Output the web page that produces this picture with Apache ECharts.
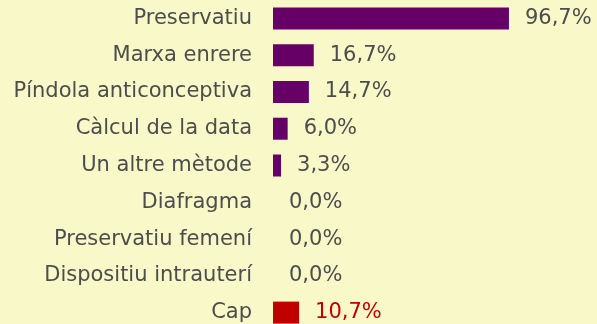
<!DOCTYPE html>
<html>
<head>
<meta charset="utf-8">
<script src="https://cdn.jsdelivr.net/npm/echarts@6/dist/echarts.min.js"></script>
<style>
  html, body { margin: 0; padding: 0; background: #f8f8c8; overflow: hidden; }
  #chart { width: 597px; height: 340px; }
</style>
</head>
<body>
<div id="chart"></div>
<script>
// Contraceptive methods, share of respondents (%)
const categories = [
  'Preservatiu',
  'Marxa enrere',
  'Píndola anticonceptiva',
  'Càlcul de la data',
  'Un altre mètode',
  'Diafragma',
  'Preservatiu femení',
  'Dispositiu intrauterí',
  'Cap'
];
const values = [96.7, 16.7, 14.7, 6.0, 3.3, 0.0, 0.0, 0.0, 10.7];
const highlighted = ['Cap'];

const purple = '#660066';
const red = '#c00000';
const textGray = '#4d4d4d';

const data = categories.map((c, i) => {
  const hi = highlighted.includes(c);
  return {
    value: values[i],
    itemStyle: { color: hi ? red : purple },
    label: { color: hi ? red : textGray }
  };
});

// The last row sits partly below the visible page edge, so the canvas is taller than the window.
const chart = echarts.init(document.getElementById('chart'));
chart.setOption({
  backgroundColor: '#f8f8c8',
  animation: false,
  grid: { left: 273, top: 0, right: 80, height: 331, containLabel: false },
  xAxis: {
    type: 'value', min: 0, max: 100,
    show: false
  },
  yAxis: {
    type: 'category',
    data: categories,
    inverse: true,
    axisLine: { show: false },
    axisTick: { show: false },
    splitLine: { show: false },
    axisLabel: {
      margin: 21,
      color: textGray,
      fontFamily: 'DejaVu Sans',
      fontSize: 21
    }
  },
  series: [{
    type: 'bar',
    data: data,
    barWidth: 22,
    label: {
      show: true,
      position: 'right',
      distance: 16,
      fontFamily: 'DejaVu Sans',
      fontSize: 21,
      formatter: p => p.value.toFixed(1).replace('.', ',') + '%'
    }
  }]
});
</script>
</body>
</html>
